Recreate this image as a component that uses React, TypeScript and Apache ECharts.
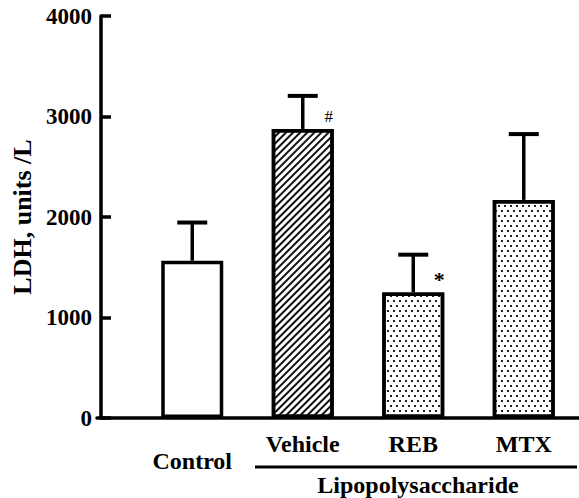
import React, { useEffect, useRef } from "react";
import * as echarts from "echarts";

const categories = ["Control", "Vehicle", "REB", "MTX"];
const means = [1565, 2875, 1250, 2170];
const upperErrors = [380, 330, 375, 655];
const markers = ["", "#", "*", ""];
const yTicks = { min: 0, max: 4000, interval: 1000 };
const yName = "LDH, units /L";
const groupLabel = "Lipopolysaccharide";

const FONT = "'Liberation Serif', 'Times New Roman', serif";

export default function App() {
  const ref = useRef<HTMLDivElement>(null);
  useEffect(() => {
    if (!ref.current) return;
    const chart = echarts.init(ref.current, undefined, { renderer: "svg" });
    const stipple = {
      symbol: "rect",
      symbolSize: 1,
      color: "#222",
      backgroundColor: "#fff",
      dashArrayX: [
        [1.5, 3.5],
        [0, 2.5, 1.5, 1],
      ],
      dashArrayY: [1.5, 3],
      rotation: 0,
    };
    const decals = [
      undefined,
      {
        symbol: "rect",
        symbolSize: 1,
        color: "#111",
        backgroundColor: "#fff",
        dashArrayX: [1, 0],
        dashArrayY: [1.8, 2.2],
        rotation: -Math.PI / 4,
      },
      stipple,
      stipple,
    ];
    chart.setOption({
      animation: false,
      backgroundColor: "#fff",
      grid: [
        { left: 137, width: 456, top: 16, bottom: 80 },
        { left: 97, right: 0, top: 16, bottom: 80 },
      ],
      xAxis: [
        {
          type: "category",
          gridIndex: 0,
          data: categories,
          axisLine: { show: false },
          axisTick: { show: false },
          axisLabel: {
            margin: 14,
            interval: 0,
            formatter: (v: string, i: number) => (i === 0 ? `{c|${v}}` : `{n|${v}}`),
            rich: {
              n: { fontFamily: FONT, fontWeight: "bold", fontSize: 24, color: "#000" },
              c: { fontFamily: FONT, fontWeight: "bold", fontSize: 24, color: "#000", padding: [17, 0, 0, 0] },
            },
          },
        },
        {
          type: "value",
          gridIndex: 1,
          min: 0,
          max: 1,
          axisLine: { show: true, onZero: false, lineStyle: { color: "#000", width: 3.5 } },
          axisTick: { show: false },
          axisLabel: { show: false },
          splitLine: { show: false },
        },
      ],
      yAxis: [
        {
          type: "value",
          gridIndex: 0,
          min: yTicks.min,
          max: yTicks.max,
          interval: yTicks.interval,
          offset: 36,
          name: yName,
          nameLocation: "middle",
          nameGap: 64,
          nameTextStyle: { fontFamily: FONT, fontWeight: "bold", fontSize: 26, color: "#000" },
          axisLine: { show: true, lineStyle: { color: "#000", width: 3.5 } },
          axisTick: { show: true, inside: true, length: 10, lineStyle: { color: "#000", width: 3.5 } },
          axisLabel: {
            margin: 9,
            fontFamily: FONT,
            fontWeight: "bold",
            fontSize: 23,
            color: "#000",
            formatter: (v: number) => String(v),
          },
          splitLine: { show: false },
        },
        { type: "value", gridIndex: 1, min: 0, max: 1, show: false },
      ],
      series: [
        {
          type: "bar",
          xAxisIndex: 0,
          yAxisIndex: 0,
          barWidth: 62,
          data: means.map((m, i) => ({
            value: m,
            itemStyle: {
              color: "#fff",
              borderColor: "#000",
              borderWidth: 3.5,
              decal: decals[i],
            },
          })),
          z: 2,
        },
        {
          type: "custom",
          xAxisIndex: 0,
          yAxisIndex: 0,
          z: 3,
          data: means.map((m, i) => [i, m, m + upperErrors[i]]),
          renderItem: (params: any, api: any) => {
            const idx = api.value(0);
            const base = api.coord([idx, api.value(1)]);
            const top = api.coord([idx, api.value(2)]);
            const mk = markers[params.dataIndex];
            const children: any[] = [
              {
                type: "line",
                shape: { x1: base[0], y1: base[1], x2: top[0], y2: top[1] },
                style: { stroke: "#000", lineWidth: 3.5 },
              },
              {
                type: "line",
                shape: { x1: top[0] - 15, y1: top[1], x2: top[0] + 15, y2: top[1] },
                style: { stroke: "#000", lineWidth: 4 },
              },
            ];
            if (mk) {
              children.push({
                type: "text",
                x: base[0] + 26,
                y: base[1] - 13,
                style: {
                  text: mk,
                  fontFamily: FONT,
                  fontWeight: mk === "*" ? "bold" : "normal",
                  fontSize: mk === "*" ? 22 : 17,
                  fill: "#000",
                  align: "center",
                  verticalAlign: "middle",
                },
              });
            }
            return { type: "group", children };
          },
        },
      ],
      graphic: [
        {
          type: "line",
          shape: { x1: 255, y1: 467, x2: 577, y2: 467 },
          style: { stroke: "#000", lineWidth: 3 },
        },
        {
          type: "text",
          x: 418,
          y: 473,
          style: {
            text: groupLabel,
            fontFamily: FONT,
            fontWeight: "bold",
            fontSize: 24,
            fill: "#000",
            align: "center",
            verticalAlign: "top",
          },
        },
      ],
    });
    return () => chart.dispose();
  }, []);
  return (
    <div
      ref={ref}
      style={{ position: "absolute", left: 0, top: 0, width: 579, height: 498 }}
    />
  );
}
